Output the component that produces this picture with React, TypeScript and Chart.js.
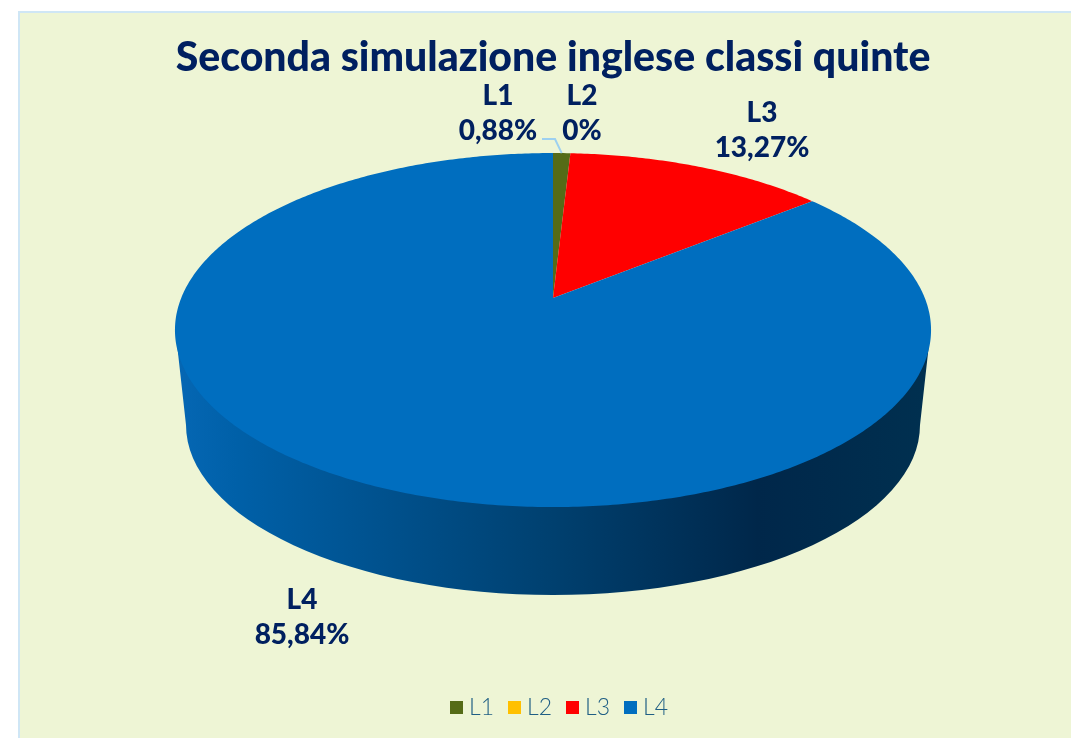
import React, { useEffect, useRef } from "react";
import { Chart, registerables } from "chart.js";

Chart.register(...registerables);

const categories = ["L1", "L2", "L3", "L4"];
const seriesValues = [0.88, 0, 13.27, 85.84];
const sliceColors = ["#556B17", "#FFC000", "#FF0000", "#006EBF"];
const titleText = "Seconda simulazione inglese classi quinte";
const labelAnchors = [
  [498, 96],
  [582, 96],
  [762, 113],
  [302, 600],
];

const FONT = "Lato";
const NAVY = "#002060";
const OX = 20;
const OY = 13;
// Ellipse that the disc projects to, in canvas pixels.
const CX = 553 - OX;
const CY = 330 - OY;
const A = 371.8;
const B = 177;
const SHIFT = -32;
const K = -0.181;

const project = (angle: number): [number, number] => {
  const u = Math.cos(angle);
  const v = Math.sin(angle);
  const w = 1 + K * v;
  return [CX + (A * u) / w, CY + (B * v + SHIFT) / w];
};
const centre: [number, number] = [CX, CY + SHIFT];

const pie3d = {
  id: "pie3d",
  beforeDatasetDraw(chart: any) {
    const ctx = chart.ctx as CanvasRenderingContext2D;
    const arcs = chart.getDatasetMeta(0).data;
    ctx.save();

    // side wall
    const wallCy = 425 - OY;
    const wallRx = 367;
    const wallRy = 170;
    const g = ctx.createLinearGradient(176 - OX, 0, 932 - OX, 0);
    g.addColorStop(0, "#0567B4");
    g.addColorStop(0.08, "#0060A8");
    g.addColorStop(0.5, "#00406F");
    g.addColorStop(0.77, "#00274A");
    g.addColorStop(1, "#003050");
    ctx.fillStyle = g;
    ctx.beginPath();
    ctx.moveTo(CX - 377, CY + 5);
    ctx.ellipse(CX, wallCy, wallRx, wallRy, 0, Math.PI, 0, true);
    ctx.lineTo(CX + 377, CY + 5);
    ctx.closePath();
    ctx.fill();

    // top face
    arcs.forEach((arc: any) => {
      const span = arc.endAngle - arc.startAngle;
      if (span <= 0) return;
      const steps = Math.max(4, Math.ceil(span * 90));
      ctx.beginPath();
      ctx.moveTo(centre[0], centre[1]);
      for (let i = 0; i <= steps; i++) {
        const p = project(arc.startAngle + (span * i) / steps);
        ctx.lineTo(p[0], p[1]);
      }
      ctx.closePath();
      ctx.fillStyle = arc.options.backgroundColor;
      ctx.fill();
    });

    // leader line for L1
    const mid = (arcs[0].startAngle + arcs[0].endAngle) / 2;
    const end = project(mid);
    ctx.strokeStyle = "#9DD0F0";
    ctx.lineWidth = 2;
    ctx.beginPath();
    ctx.moveTo(542 - OX, end[1] - 14);
    ctx.lineTo(555 - OX, end[1] - 14);
    ctx.lineTo(end[0], end[1]);
    ctx.stroke();

    // data labels
    ctx.fillStyle = NAVY;
    ctx.font = `900 28px ${FONT}`;
    ctx.textAlign = "center";
    ctx.textBaseline = "middle";
    categories.forEach((name, i) => {
      const [x, y] = labelAnchors[i];
      const pct = String(seriesValues[i]).replace(".", ",") + "%";
      ctx.fillText(name, x - OX, y - OY);
      ctx.fillText(pct, x - OX, y + 35 - OY);
    });

    // legend
    ctx.font = `300 23px ${FONT}`;
    ctx.textAlign = "left";
    categories.forEach((name, i) => {
      const x = 450 + i * 58 - OX;
      ctx.fillStyle = sliceColors[i];
      ctx.fillRect(x, 701 - OY, 13, 13);
      ctx.fillStyle = "#1F5E84";
      ctx.fillText(name, x + 19, 708 - OY);
    });
    ctx.restore();
    return false;
  },
};

export default function App() {
  const ref = useRef<HTMLCanvasElement>(null);
  useEffect(() => {
    const chart = new Chart(ref.current!, {
      type: "pie",
      data: {
        labels: categories,
        datasets: [
          { data: seriesValues, backgroundColor: sliceColors, borderWidth: 0 },
        ],
      },
      options: {
        responsive: false,
        animation: false,
        radius: 177,
        layout: { padding: { left: 15, bottom: 4 } },
        plugins: {
          tooltip: { enabled: false },
          title: {
            display: true,
            text: titleText,
            color: NAVY,
            font: { family: FONT, size: 41, weight: "900" },
            padding: { top: 20, bottom: 0 },
          },
          legend: { display: false },
        },
      },
      plugins: [pie3d],
    } as any);
    return () => chart.destroy();
  }, []);
  return (
    <div
      style={{
        position: "absolute",
        left: 18,
        top: 11,
        width: 1051,
        height: 725,
        background: "#EEF5D5",
        borderTop: "2px solid #CFE6F5",
        borderLeft: "2px solid #CFE6F5",
      }}
    >
      <canvas ref={ref} width={1051} height={725} style={{ display: "block" }} />
    </div>
  );
}
